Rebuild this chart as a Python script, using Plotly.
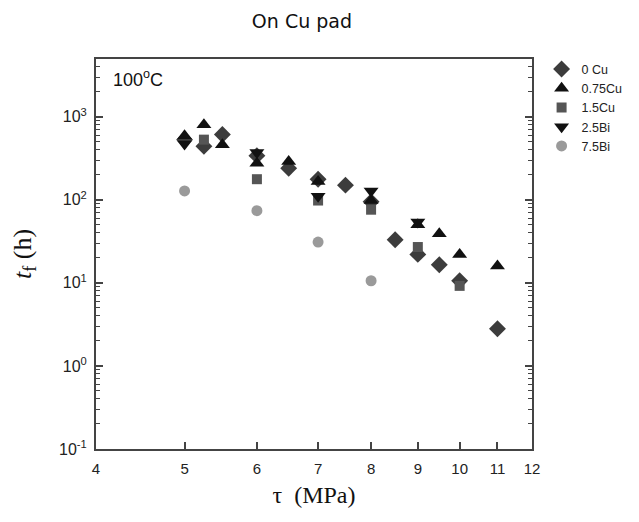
import plotly.graph_objects as go
import numpy as np

# ---- data ----
x_0cu = [5, 5.25, 5.5, 6, 6.5, 7, 7.5, 8, 8.5, 9, 9.5, 10, 11]
y_0cu = [530, 440, 610, 340, 240, 177, 150, 95, 33, 22, 16.5, 10.6, 2.8]

x_075cu = [5, 5.25, 5.5, 6, 6.5, 7, 8, 9, 9.5, 10, 11]
y_075cu = [590, 800, 460, 275, 290, 166, 98, 50, 39, 22, 16]

x_15cu = [5.25, 6, 7, 8, 9, 10]
y_15cu = [530, 177, 98, 76, 27, 9.2]

x_25bi = [5, 6, 7, 8, 9]
y_25bi = [470, 370, 110, 128, 54]

x_75bi = [5, 6, 7, 8]
y_75bi = [128, 74, 31, 10.6]

x_ticks = [4, 5, 6, 7, 8, 9, 10, 11, 12]
y_ticks = [0.1, 1, 10, 100, 1000]
y_ticktext = ["10<sup>-1</sup>", "10<sup>0</sup>", "10<sup>1</sup>", "10<sup>2</sup>", "10<sup>3</sup>"]

series = [
    ("0 Cu", x_0cu, y_0cu, "diamond", "#3c3c3c", 13),
    ("0.75Cu", x_075cu, y_075cu, "triangle-up", "#111111", 13),
    ("1.5Cu", x_15cu, y_15cu, "square", "#555555", 10),
    ("2.5Bi", x_25bi, y_25bi, "triangle-down", "#111111", 13),
    ("7.5Bi", x_75bi, y_75bi, "circle", "#9a9a9a", 11),
]

fig = go.Figure()
for name, xs, ys, sym, col, sz in series:
    fig.add_trace(go.Scatter(
        x=xs, y=ys, mode="markers", name=name,
        marker=dict(symbol=sym, color=col, size=sz, line=dict(width=0)),
    ))

minor_y = [m * 10.0 ** e for e in range(-1, 4) for m in range(2, 10)]

fig.update_layout(
    width=639, height=522,
    margin=dict(l=88, r=115, t=51, b=81),
    paper_bgcolor="white", plot_bgcolor="white",
    font=dict(family="Arial, Liberation Sans", size=14, color="#222"),
    title=dict(text="On Cu pad", x=0.46, xref="container", xanchor="center",
               y=0.988, yref="container", yanchor="top", pad=dict(t=0, b=0),
               font=dict(family="DejaVu Sans", size=19, color="#111")),
    showlegend=True,
    legend=dict(x=1.022, y=1.012, xanchor="left", yanchor="top",
                font=dict(family="Arial, Liberation Sans", size=12.5, color="#222"),
                itemsizing="trace", tracegroupgap=0, bgcolor="rgba(0,0,0,0)",
                itemwidth=30),
)

fig.update_xaxes(
    type="log", range=[np.log10(4), np.log10(12)],
    tickvals=x_ticks, ticktext=[str(v) for v in x_ticks],
    ticks="inside", ticklen=7, tickwidth=1.5, tickcolor="#444",
    showline=True, linecolor="#444", linewidth=2, mirror=True,
    showgrid=False, zeroline=False, automargin=False,
    tickfont=dict(size=15, color="#222"), ticklabelstandoff=5,
    title=dict(text="τ  (MPa)", font=dict(family="Liberation Serif, Times New Roman", size=24, color="#111"),
               standoff=10),
)
fig.update_yaxes(
    type="log", range=[-1, 3.695],
    tickvals=y_ticks, ticktext=y_ticktext,
    ticks="inside", ticklen=7, tickwidth=1.5, tickcolor="#444",
    minor=dict(tickvals=minor_y, ticks="inside", ticklen=4, tickwidth=1, tickcolor="#444", showgrid=False),
    showline=True, linecolor="#444", linewidth=2, mirror="allticks",
    showgrid=False, zeroline=False, automargin=False,
    tickfont=dict(size=16, color="#222"), ticklabelstandoff=4,
    title=dict(text="<i>t</i><sub>f</sub> (h)", font=dict(family="Liberation Serif, Times New Roman", size=26, color="#111"),
               standoff=22),
)

fig.add_annotation(
    xref="paper", yref="paper", x=0.035, y=0.985, xanchor="left", yanchor="top",
    text="100<sup>o</sup>C", showarrow=False,
    font=dict(family="Arial, Liberation Sans", size=18, color="#111"),
)

fig.write_html("out.html")
